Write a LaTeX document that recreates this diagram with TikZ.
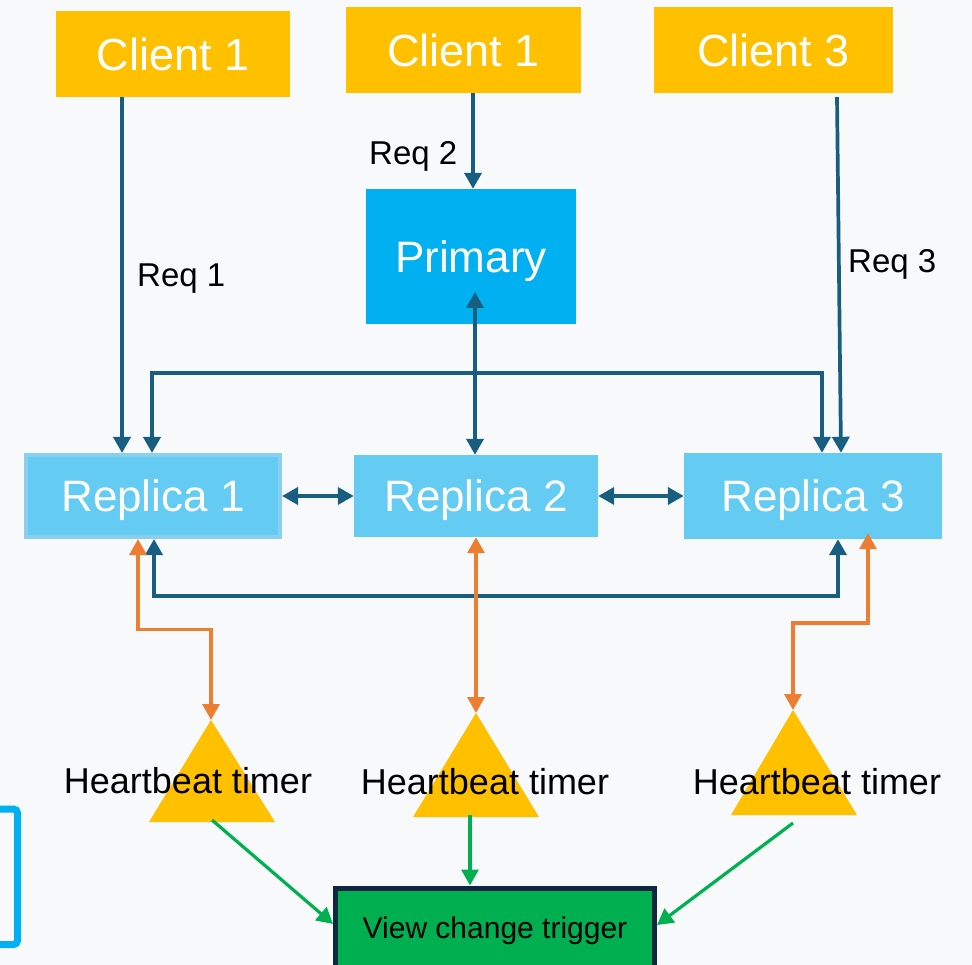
\documentclass[tikz,border=0pt]{standalone}
\usepackage{fontspec}
\setmainfont{Liberation Sans}
\usetikzlibrary{arrows.meta}
\definecolor{bgc}{HTML}{F7F9FA}
\definecolor{clientY}{HTML}{FFC000}
\definecolor{primB}{HTML}{00B0F0}
\definecolor{replB}{HTML}{64CBF3}
\definecolor{replEdge}{HTML}{8ACFEE}
\definecolor{linkB}{HTML}{185E80}
\definecolor{orangeC}{HTML}{ED7D31}
\definecolor{greenC}{HTML}{00B050}
\definecolor{navyC}{HTML}{0E2841}
\begin{document}
\begin{tikzpicture}[x=1pt,y=-1pt,
  >={Triangle[width=17pt,length=16pt]},
  client/.style={fill=clientY,text=white,inner sep=0pt,minimum height=86pt,
    font=\fontsize{45}{54}\selectfont,text height=32.2pt,text depth=0pt},
  replica/.style={fill=replB,text=white,inner sep=0pt,
    font=\fontsize{44}{52}\selectfont,text height=31.5pt,text depth=0pt},
  reqlabel/.style={text=black,inner sep=0pt,anchor=base west,font=\fontsize{33}{40}\selectfont},
  hblabel/.style={text=black,inner sep=0pt,anchor=base,font=\fontsize{36}{43}\selectfont},
  bl/.style={draw=linkB,line width=3.7pt},
  og/.style={draw=orangeC,line width=3.3pt},
  gr/.style={draw=greenC,line width=3.2pt},
  timer/.style={fill=clientY}
]
% canvas
\fill[bgc] (0,0) rectangle (972,965);
\useasboundingbox (0,0) rectangle (972,965);
\clip (0,0) rectangle (972,965);

% partial frame at the lower left edge
\draw[primB,line width=7pt,rounded corners=4pt] (-20,809) -| (17.5,944.5) -- (-20,944.5);

% clients
\node[client,minimum width=234pt] (c1) at (173,54) {Client 1};
\node[client,minimum width=235pt] (c2) at (463.5,50) {Client 1};
\node[client,minimum width=239pt] (c3) at (773.5,50) {Client 3};

% primary
\node[fill=primB,text=white,inner sep=0pt,minimum width=210pt,minimum height=135pt,
  font=\fontsize{44}{52}\selectfont,text height=31.5pt,text depth=0pt] (p) at (471,256.5) {Primary};

% replicas
\node[replica,draw=replEdge,line width=4.3pt,minimum width=253.7pt,minimum height=81.7pt] (r1) at (153,496) {Replica 1};
\node[replica,minimum width=244pt,minimum height=82pt] (r2) at (476,496) {Replica 2};
\node[replica,minimum width=258pt,minimum height=86pt] (r3) at (813,496) {Replica 3};

% view change trigger
\node[fill=greenC,draw=navyC,line width=5pt,inner sep=0pt,minimum width=319pt,minimum height=80pt,
  font=\fontsize{30}{36}\selectfont,text height=21.5pt,text depth=0pt] (vct) at (495,928) {View change trigger};

% heartbeat timers
\fill[timer] (211,720) -- (275,822) -- (149,822) -- cycle;
\fill[timer] (476,713) -- (539,817) -- (413,817) -- cycle;
\fill[timer] (793,710) -- (857,815) -- (731,815) -- cycle;
\coordinate (t1top) at (211,720);
\coordinate (t2top) at (476,713);
\coordinate (t3top) at (793,710);
\coordinate (t1bot) at (212,820);
\coordinate (t2bot) at (470,815);
\coordinate (t3bot) at (793,823);

% client requests
\draw[bl,->] ([xshift=-51]c1.south) -- ([xshift=-31]r1.north);
\draw[bl,->] ([xshift=9.5]c2.south) -- ([xshift=2]p.north);
\draw[bl,->] ([xshift=63.5,yshift=-4]c3.south) -- ([xshift=28]r3.north);
\node[reqlabel] (req1) at (137,287) {Req 1};
\node[reqlabel] (req2) at (369,165) {Req 2};
\node[reqlabel] (req3) at (848,273) {Req 3};

% primary to replicas
\coordinate (j) at (475,373);
\draw[bl,->] (j) -- ([xshift=4,yshift=-35.5]p.center);
\draw[bl,->] (j) -- (j |- r2.north);
\draw[bl,->] (j) -| ([xshift=-1]r1.north);
\draw[bl,->] (j) -| ([xshift=9]r3.north);

% replica to replica
\draw[bl,<->] (r1.east) -- (r2.west);
\draw[bl,<->] (r2.east) -- (r3.west);
\coordinate (lb) at (476,596);
\draw[bl,<->] ([xshift=1]r1.south) |- (lb) -| ([xshift=25]r3.south);

% heartbeat links
\coordinate (oc1) at (175,629.5);
\coordinate (oc3) at (830,623);
\draw[og,<->] ([xshift=-15]r1.south) |- (oc1) -| (t1top);
\draw[og,<->] (r2.south) -- (t2top);
\draw[og,<->] ([xshift=55,yshift=6]r3.south) |- (oc3) -| (t3top);

% timers to trigger
\draw[gr,->] (t1bot) -- ([yshift=4]vct.west);
\draw[gr,->] (t2bot) -- ([xshift=-25]vct.north);
\draw[gr,->] (t3bot) -- ([yshift=3]vct.east);

% timer labels
\node[hblabel] (hb1) at (188,793) {Heartbeat timer};
\node[hblabel] (hb2) at (485,794) {Heartbeat timer};
\node[hblabel] (hb3) at (817,794) {Heartbeat timer};
\end{tikzpicture}
\end{document}
